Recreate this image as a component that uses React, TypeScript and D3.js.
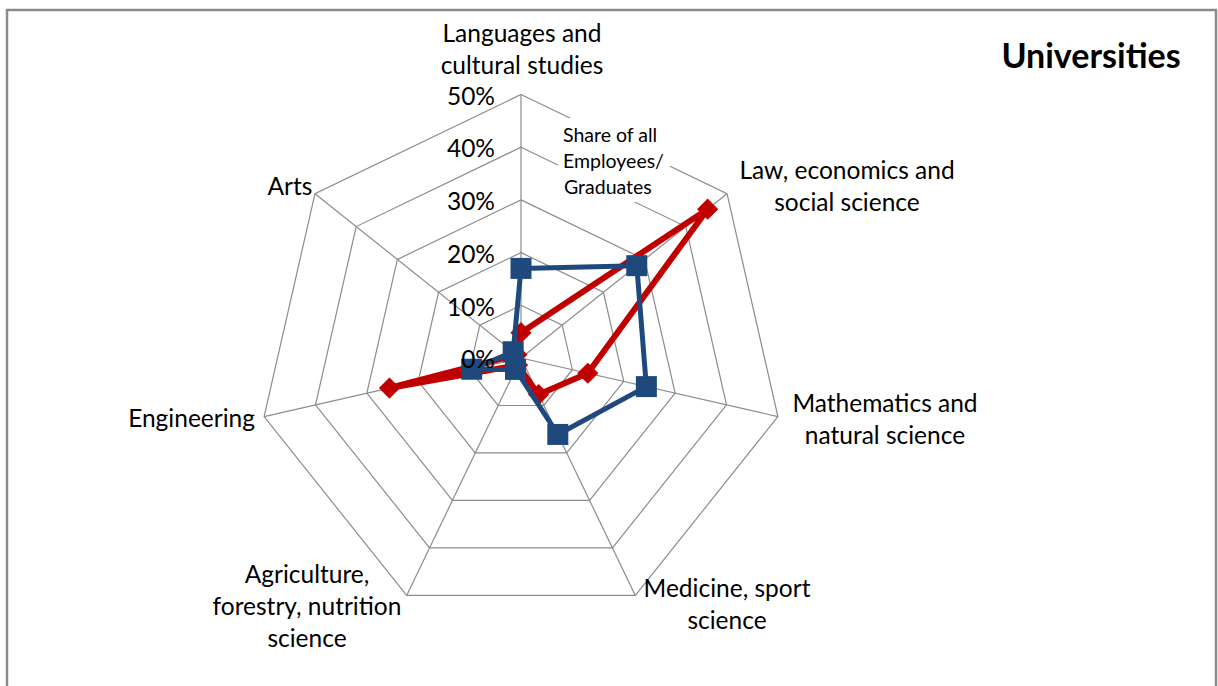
import React from 'react'
import * as d3 from 'd3'

const categories = [
  ['Languages and', 'cultural studies'],
  ['Law, economics and', 'social science'],
  ['Mathematics and', 'natural science'],
  ['Medicine, sport', 'science'],
  ['Agriculture,', 'forestry, nutrition', 'science'],
  ['Engineering'],
  ['Arts'],
]

// share of all graduates (red) and employees (blue)
const graduates = [0.048, 0.453, 0.13, 0.077, 0.015, 0.256, 0.01]
const employees = [0.17, 0.281, 0.244, 0.161, 0.024, 0.096, 0.019]

const ticks = [0, 0.1, 0.2, 0.3, 0.4, 0.5]
const tickLabels = ['0%', '10%', '20%', '30%', '40%', '50%']

const width = 1218
const height = 686
const cx = 521
const cy = 358
const radius = 263.5

const font = "Lato, 'Open Sans', sans-serif"
const red = '#C00000'
const blue = '#1F497D'
const gridColor = '#8c8c8c'

// label placement per axis: anchor point and text-anchor
const labelPos = [
  { x: 522, y: 36, anchor: 'middle' },
  { x: 847, y: 173, anchor: 'middle' },
  { x: 885, y: 406, anchor: 'middle' },
  { x: 727, y: 591, anchor: 'middle' },
  { x: 307, y: 577, anchor: 'middle' },
  { x: 255, y: 421, anchor: 'end' },
  { x: 290, y: 189, anchor: 'middle' },
]

export default function App() {
  const r = d3.scaleLinear().domain([0, 0.5]).range([0, radius])
  const angle = d3
    .scaleLinear()
    .domain([0, categories.length])
    .range([0, 2 * Math.PI])

  const point = (i: number, v: number): [number, number] => {
    const a = angle(i)
    return [cx + r(v) * Math.sin(a), cy - r(v) * Math.cos(a)]
  }

  const ring = (v: number) =>
    categories.map((_, i) => point(i, v).join(',')).join(' ')

  const line = d3.line<number>().x((d, i) => point(i, d)[0]).y((d, i) => point(i, d)[1]).curve(d3.curveLinearClosed)

  return (
    <svg
      width={width}
      height={height}
      style={{ position: 'absolute', left: 0, top: 0, background: '#fff' }}
    >
      <rect x={7} y={10} width={1209} height={690} fill="#fff" stroke="#8a8a8a" strokeWidth={2.5} />

      {ticks.slice(1).map((t) => (
        <polygon key={'ring-' + t} points={ring(t)} fill="none" stroke={gridColor} strokeWidth={1.2} />
      ))}
      {categories.map((_, i) => {
        const [x, y] = point(i, 0.5)
        return <line key={'spoke-' + i} x1={cx} y1={cy} x2={x} y2={y} stroke={gridColor} strokeWidth={1.2} />
      })}

      {/* annotation box covers the grid */}
      <rect x={558} y={118} width={112} height={84} fill="#fff" />
      <text fontFamily={font} fontSize={19.5} fill="#000">
        <tspan x={563} y={142}>Share of all</tspan>
        <tspan x={563} y={168}>Employees/</tspan>
        <tspan x={564} y={194}>Graduates</tspan>
      </text>

      <path d={line(graduates) || ''} fill="none" stroke={red} strokeWidth={6} strokeLinejoin="round" />
      {graduates.map((v, i) => {
        const [x, y] = point(i, v)
        return (
          <rect
            key={'g-' + i}
            x={x - 7.5}
            y={y - 7.5}
            width={15}
            height={15}
            fill={red}
            transform={`rotate(45 ${x} ${y})`}
          />
        )
      })}

      <path d={line(employees) || ''} fill="none" stroke={blue} strokeWidth={5} strokeLinejoin="round" />
      {employees.map((v, i) => {
        const [x, y] = point(i, v)
        return <rect key={'e-' + i} x={x - 10.5} y={y - 10.5} width={21} height={21} fill={blue} />
      })}

      {ticks.map((t, i) => (
        <text
          key={'tick-' + t}
          x={495}
          y={point(0, t)[1] + 4}
          textAnchor="end"
          dominantBaseline="middle"
          fontFamily={font}
          fontSize={24.5}
          fill="#000"
        >
          {tickLabels[i]}
        </text>
      ))}

      {categories.map((lines, i) => (
        <text
          key={'cat-' + i}
          textAnchor={labelPos[i].anchor}
          dominantBaseline="middle"
          fontFamily={font}
          fontSize={24.5}
          fill="#000"
        >
          {lines.map((l, j) => (
            <tspan key={j} x={labelPos[i].x} y={labelPos[i].y + j * 32}>
              {l}
            </tspan>
          ))}
        </text>
      ))}

      <text x={1091} y={59} textAnchor="middle" dominantBaseline="middle" fontFamily={font} fontWeight="bold" fontSize={34}>
        Universities
      </text>
    </svg>
  )
}
